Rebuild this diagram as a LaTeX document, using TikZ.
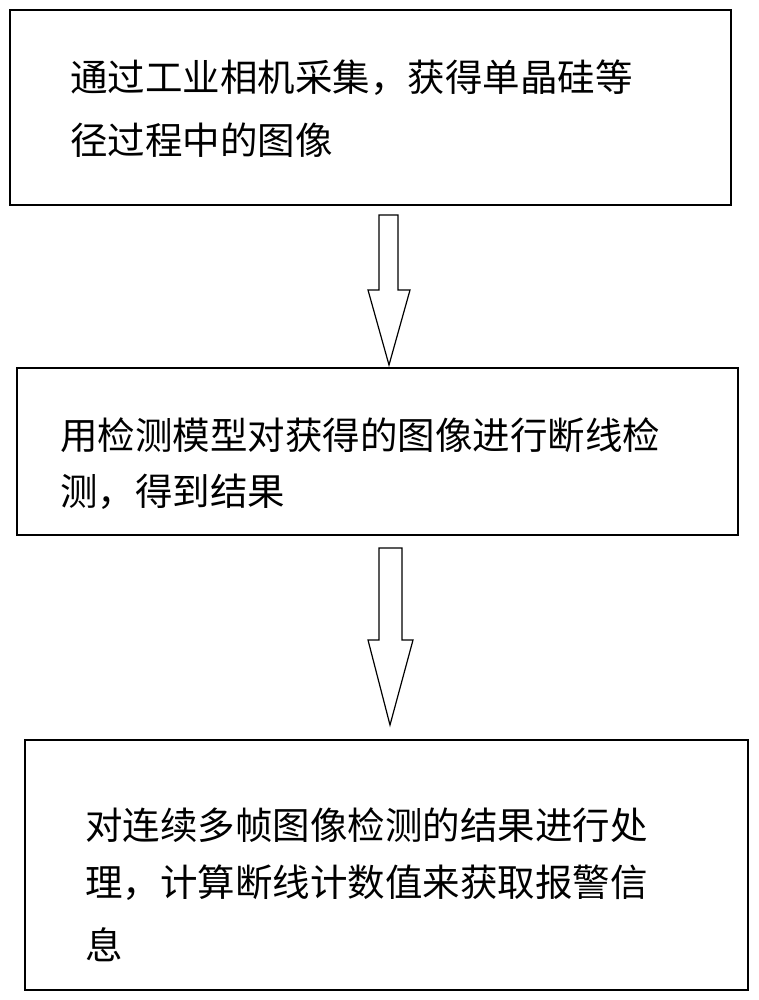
\documentclass[tikz,border=0pt]{standalone}
\usepackage{fontspec}
\newfontfamily\cjk{Noto Sans CJK SC}
\begin{document}
\begin{tikzpicture}[x=1pt,y=-1pt,
  box/.style={draw,line width=1.2pt},
  txt/.style={anchor=west,inner sep=0pt,font=\cjk\fontsize{37.5}{44}\selectfont},
  barrow/.style={draw,line width=1.2pt,fill=white}]
\useasboundingbox (0,0) rectangle (758,1000);
\draw[box] (10,10) rectangle (731,205);
\node[txt] (a1) at (70,78) {通过工业相机采集，获得单晶硅等};
\node[txt] (a2) at (70,140) {径过程中的图像};
\draw[box] (17,368) rectangle (738,535);
\node[txt] (b1) at (60,435) {用检测模型对获得的图像进行断线检};
\node[txt] (b2) at (60,492) {测，得到结果};
\draw[box] (25,740) rectangle (748,990);
\node[txt] (c1) at (85,825) {对连续多帧图像检测的结果进行处};
\node[txt] (c2) at (85,883) {理，计算断线计数值来获取报警信};
\node[txt] (c3) at (85,945) {息};
\draw[barrow] (379,215) -- (398,215) -- (398,290) -- (410,290) -- (389,365) -- (368,290) -- (379,290) -- cycle;
\draw[barrow] (379,548) -- (402,548) -- (402,640) -- (413,640) -- (390,725) -- (368,640) -- (379,640) -- cycle;
\end{tikzpicture}
\end{document}
